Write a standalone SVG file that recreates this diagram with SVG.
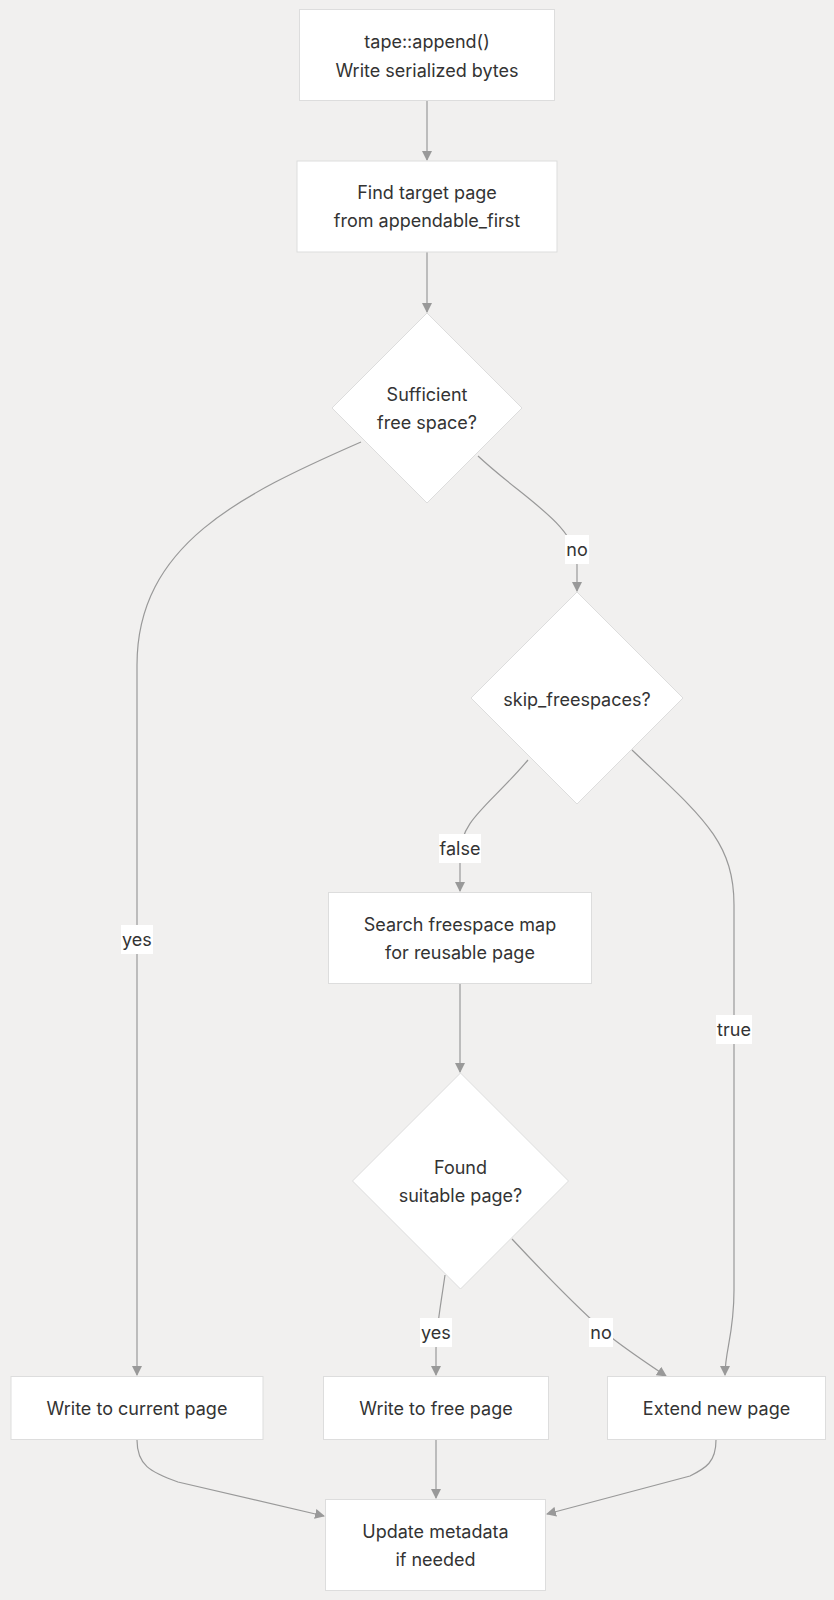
<svg xmlns="http://www.w3.org/2000/svg" width="834" height="1600" viewBox="0 0 834 1600">
<defs>
<marker id="arr" viewBox="0 0 10 10" refX="9" refY="5" markerWidth="10" markerHeight="10" markerUnits="userSpaceOnUse" orient="auto">
<path d="M0,0 L10,5 L0,10 z" fill="#999"/>
</marker>
<style>
.node{fill:#ffffff;stroke:#dddddd;stroke-width:1}
.t{font-family:Inter,"Noto Sans","Liberation Sans",sans-serif;font-size:18px;fill:#333333;text-anchor:middle;dominant-baseline:central}
.e{fill:none;stroke:#999999;stroke-width:1.2;marker-end:url(#arr)}
.lb{fill:#ffffff}
</style>
</defs>
<rect x="0" y="0" width="834" height="1600" fill="#f1f0ef"/>
<g id="connectors">
<path class="e" d="M427,101 L427,160"/>
<path class="e" d="M427,252 L427,312"/>
<path class="e" d="M361,442 C240,495 137,545 137,665 L137,1375"/>
<path class="e" d="M478,456 C525,500 577,525 577,565 L577,591"/>
<path class="e" d="M528,760 C490,805 460,820 460,855 L460,891"/>
<path class="e" d="M632,750 C700,815 734,840 734,905 L734,1290 C734,1335 725,1350 725,1375"/>
<path class="e" d="M460,984 L460,1072"/>
<path class="e" d="M445,1275 C440,1310 436,1330 436,1350 L436,1375"/>
<path class="e" d="M512,1239 C555,1285 585,1315 612,1338 C630,1352 648,1364 666,1376"/>
<path class="e" d="M137,1440 C137,1465 150,1472 178,1482 L324,1516"/>
<path class="e" d="M436,1440 L436,1498"/>
<path class="e" d="M716,1440 C716,1462 706,1468 690,1476 L547,1514"/>
<rect class="lb" x="121" y="925" width="32" height="29"/>
<text class="t" x="137" y="939">yes</text>
<rect class="lb" x="565" y="535" width="24" height="29"/>
<text class="t" x="577" y="549">no</text>
<rect class="lb" x="439" y="834" width="42" height="29"/>
<text class="t" x="460" y="848">false</text>
<rect class="lb" x="716" y="1015" width="36" height="29"/>
<text class="t" x="734" y="1029">true</text>
<rect class="lb" x="420" y="1318" width="32" height="29"/>
<text class="t" x="436" y="1332">yes</text>
<rect class="lb" x="589" y="1318" width="24" height="29"/>
<text class="t" x="601" y="1332">no</text>
</g>
<g id="n1"><rect class="node" x="299.5" y="9.5" width="255" height="91"/><text class="t" x="427" y="41.5">tape::append()</text><text class="t" x="427" y="70">Write serialized bytes</text></g>
<g id="n2"><rect class="node" x="297" y="161" width="260" height="91"/><text class="t" x="427" y="192.5">Find target page</text><text class="t" x="427" y="220.5">from appendable_first</text></g>
<g id="d1"><polygon class="node" points="427,313 522,408 427,503 332,408"/><text class="t" x="427" y="394.5">Sufficient</text><text class="t" x="427" y="422.5">free space?</text></g>
<g id="d2"><polygon class="node" points="577,592 683,698 577,804 471,698"/><text class="t" x="577" y="699">skip_freespaces?</text></g>
<g id="n3"><rect class="node" x="328.5" y="892.5" width="263" height="91"/><text class="t" x="460" y="924">Search freespace map</text><text class="t" x="460" y="952">for reusable page</text></g>
<g id="d3"><polygon class="node" points="460.5,1073 568.5,1181 460.5,1289 352.5,1181"/><text class="t" x="460.5" y="1167">Found</text><text class="t" x="460.5" y="1195">suitable page?</text></g>
<g id="n4"><rect class="node" x="11" y="1376.5" width="252" height="63"/><text class="t" x="137" y="1408">Write to current page</text></g>
<g id="n5"><rect class="node" x="323.5" y="1376.5" width="225" height="63"/><text class="t" x="436" y="1408">Write to free page</text></g>
<g id="n6"><rect class="node" x="607.5" y="1376.5" width="218" height="63"/><text class="t" x="716.5" y="1408">Extend new page</text></g>
<g id="n7"><rect class="node" x="325.5" y="1499.5" width="220" height="91"/><text class="t" x="435.5" y="1531">Update metadata</text><text class="t" x="435.5" y="1559">if needed</text></g>
</svg>
